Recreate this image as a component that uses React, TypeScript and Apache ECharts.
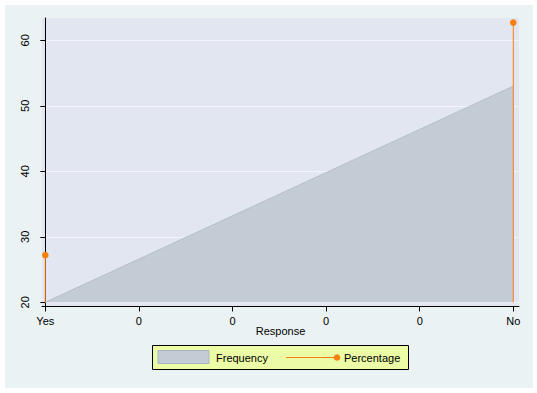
import React, { useEffect, useRef } from "react";
import * as echarts from "echarts";

const xPositions = [0, 0.2, 0.4, 0.6, 0.8, 1];
const xTickLabels = ["Yes", "0", "0", "0", "0", "No"];
const yTicks = [20, 30, 40, 50, 60];
const frequencyValues: [number, number][] = [
  [0, 20],
  [1, 53],
];
const percentageValues: [number, number][] = [
  [0, 27.2],
  [1, 62.7],
];
const spikeBase = 20;

const FONT = "Liberation Sans, Arial, sans-serif";
const ORANGE = "#f7800c";

export default function App() {
  const ref = useRef<HTMLDivElement>(null);
  useEffect(() => {
    if (!ref.current) return;
    const chart = echarts.init(ref.current, undefined, { renderer: "svg" });
    const option: any = {
      animation: false,
      backgroundColor: "#ffffff",
      textStyle: { fontFamily: FONT },
      graphic: [
        {
          type: "rect",
          z: -10,
          silent: true,
          shape: { x: 5, y: 5, width: 528, height: 383 },
          style: { fill: "#eaf2f3" },
        },
        {
          type: "rect",
          z: 100,
          shape: { x: 152.5, y: 345.5, width: 256, height: 24 },
          style: { fill: "#ebfba6", stroke: "#000000", lineWidth: 1 },
        },
        {
          type: "rect",
          z: 101,
          shape: { x: 158, y: 350.5, width: 51, height: 13 },
          style: { fill: "#c3cbd5", stroke: "#aab5c1", lineWidth: 1 },
        },
        {
          type: "text",
          z: 101,
          x: 216,
          y: 358,
          style: {
            text: "Frequency",
            fill: "#000",
            fontSize: 11,
            fontFamily: FONT,
            verticalAlign: "middle",
          },
        },
        {
          type: "line",
          z: 101,
          shape: { x1: 286, y1: 357.5, x2: 337, y2: 357.5 },
          style: { stroke: ORANGE, lineWidth: 1 },
        },
        {
          type: "circle",
          z: 102,
          shape: { cx: 337, cy: 357.5, r: 3.3 },
          style: { fill: ORANGE },
        },
        {
          type: "text",
          z: 101,
          x: 344,
          y: 358,
          style: {
            text: "Percentage",
            fill: "#000",
            fontSize: 11,
            fontFamily: FONT,
            verticalAlign: "middle",
          },
        },
      ],
      grid: {
        left: 42,
        right: 18,
        top: 18,
        bottom: 86.5,
        show: true,
        backgroundColor: "#e1e6f0",
        borderWidth: 0,
      },
      xAxis: {
        type: "value",
        min: -0.00705,
        max: 1.0122,
        name: "Response",
        nameLocation: "middle",
        nameGap: 19,
        nameMoveOverlap: false,
        nameTextStyle: { fontSize: 11, color: "#000", fontFamily: FONT },
        axisLine: { show: true, onZero: false, lineStyle: { color: "#000", width: 1 } },
        axisTick: {
          show: true,
          length: 5,
          customValues: xPositions,
          lineStyle: { color: "#000" },
        },
        axisLabel: {
          show: true,
          customValues: xPositions,
          margin: 9,
          fontSize: 11,
          color: "#000",
          fontFamily: FONT,
          formatter: (v: number) => {
            let best = 0;
            xPositions.forEach((p, i) => {
              if (Math.abs(p - v) < Math.abs(xPositions[best] - v)) best = i;
            });
            return xTickLabels[best];
          },
        },
        splitLine: { show: false },
      },
      yAxis: {
        type: "value",
        min: 19.36,
        max: 63.4,
        axisLine: { show: true, lineStyle: { color: "#000", width: 1 } },
        axisTick: {
          show: true,
          length: 5,
          customValues: yTicks,
          lineStyle: { color: "#000" },
        },
        axisLabel: {
          show: true,
          customValues: yTicks,
          rotate: 90,
          margin: 12,
          fontSize: 11,
          color: "#000",
          fontFamily: FONT,
        },
        splitLine: {
          show: true,
          lineStyle: { color: "#f2f4fa", width: 1 },
        },
      },
      series: [
        {
          name: "Frequency",
          type: "line",
          data: frequencyValues,
          symbol: "none",
          lineStyle: { color: "#b4bec9", width: 1 },
          areaStyle: { color: "#c3cbd5", opacity: 1, origin: spikeBase },
          z: 2,
        },
        {
          name: "Percentage",
          type: "custom",
          data: percentageValues,
          z: 3,
          renderItem: (params: any, api: any) => {
            const x = api.value(0);
            const y = api.value(1);
            const top = api.coord([x, y]);
            const bottom = api.coord([x, spikeBase]);
            return {
              type: "group",
              children: [
                {
                  type: "line",
                  shape: { x1: top[0], y1: top[1], x2: bottom[0], y2: bottom[1] },
                  style: { stroke: ORANGE, lineWidth: 1 },
                },
                {
                  type: "circle",
                  shape: { cx: top[0], cy: top[1], r: 3.3 },
                  style: { fill: ORANGE },
                },
              ],
            };
          },
        },
      ],
    };
    chart.setOption(option);
    return () => chart.dispose();
  }, []);
  return (
    <div
      ref={ref}
      style={{ position: "fixed", left: 0, top: 0, width: 537, height: 393 }}
    />
  );
}
